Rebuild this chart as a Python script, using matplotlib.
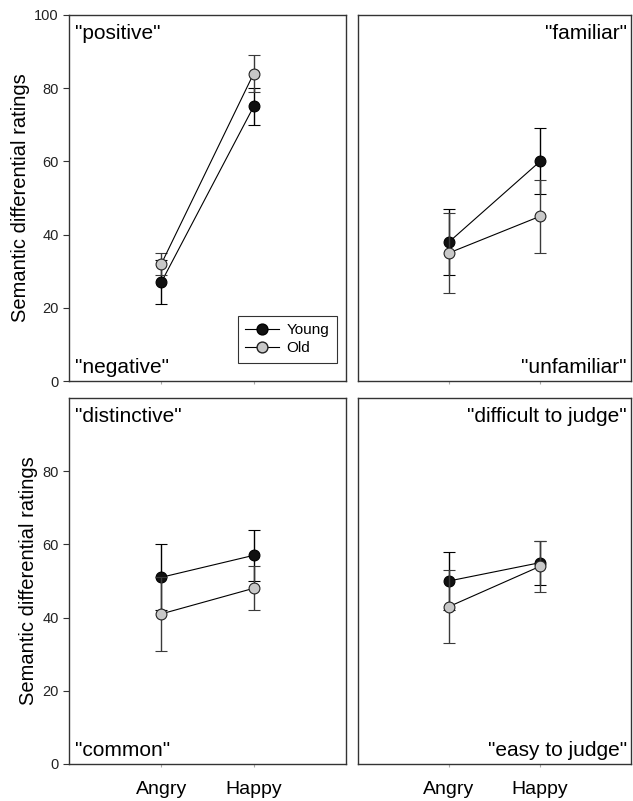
import numpy as np
import matplotlib
matplotlib.use("Agg")
import matplotlib.pyplot as plt
from matplotlib.lines import Line2D

plt.rcParams['font.family'] = ['Liberation Sans', 'DejaVu Sans']

conditions = ["Angry", "Happy"]

# panel order: top-left, top-right, bottom-left, bottom-right
top_labels = ['"positive"', '"familiar"', '"distinctive"', '"difficult to judge"']
bottom_labels = ['"negative"', '"unfamiliar"', '"common"', '"easy to judge"']

young_mean = [[27, 75], [38, 60], [51, 57], [50, 55]]
young_err = [[6, 5], [9, 9], [9, 7], [8, 6]]
old_mean = [[32, 84], [35, 45], [41, 48], [43, 54]]
old_err = [[3, 5], [11, 10], [10, 6], [10, 7]]

fig = plt.figure(figsize=(6.33, 8.01), dpi=100)

lefts = [0.109, 0.5656]
bottoms = [0.5243, 0.0462]
widths = [0.4376, 0.4313]
height = 0.457

x = np.arange(1, len(conditions) + 1)
axes = []
for i in range(4):
    r, c = i // 2, i % 2
    ax = fig.add_axes([lefts[c], bottoms[r], widths[c], height])
    axes.append(ax)

    ax.errorbar(x, young_mean[i], yerr=young_err[i], color='black', ecolor='black',
                elinewidth=1.0, capsize=4, capthick=1.0, lw=0.8, marker='o',
                markersize=7.8, markerfacecolor='#111111', markeredgecolor='black',
                markeredgewidth=0.8, zorder=3)
    ax.errorbar(x, old_mean[i], yerr=old_err[i], color='black', ecolor='#3a3a3a',
                elinewidth=1.0, capsize=4, capthick=1.0, lw=0.8, marker='o',
                markersize=7.8, markerfacecolor='#c8c8c8', markeredgecolor='#222222',
                markeredgewidth=0.8, zorder=4)

    ax.set_xlim(0, 3)
    ax.set_ylim(0, 100)
    for s in ax.spines.values():
        s.set_color('#333333')
        s.set_linewidth(1.0)

    ax.set_xticks(x)
    if r == 1:
        ax.set_xticklabels(conditions, fontsize=14)
    else:
        ax.set_xticklabels([])
    ax.tick_params(axis='x', length=2, color='#aaaaaa', pad=10)

    if c == 0:
        ax.set_yticks([0, 20, 40, 60, 80, 100] if r == 0 else [0, 20, 40, 60, 80])
        ax.tick_params(axis='y', labelsize=10.5, length=4, color='#333333',
                       labelcolor='#222222')
        ax.set_ylabel("Semantic differential ratings", fontsize=14.5, labelpad=3)
    else:
        ax.set_yticks([])

    if c == 0:
        ax.text(0.02, 0.975, top_labels[i], transform=ax.transAxes, ha='left', va='top', fontsize=15)
        ax.text(0.02, 0.012, bottom_labels[i], transform=ax.transAxes, ha='left', va='bottom', fontsize=15)
    else:
        ax.text(0.985, 0.975, top_labels[i], transform=ax.transAxes, ha='right', va='top', fontsize=15)
        ax.text(0.985, 0.012, bottom_labels[i], transform=ax.transAxes, ha='right', va='bottom', fontsize=15)

handles = [
    Line2D([0], [0], color='black', lw=0.8, marker='o', markersize=7.8,
           markerfacecolor='#111111', markeredgecolor='black'),
    Line2D([0], [0], color='black', lw=0.8, marker='o', markersize=7.8,
           markerfacecolor='#c8c8c8', markeredgecolor='#222222'),
]
leg = axes[0].legend(handles, ["Young", "Old"], loc='lower right',
                     bbox_to_anchor=(0.967, 0.05), fontsize=11, frameon=True,
                     fancybox=False, handlelength=2.2, borderpad=0.5,
                     labelspacing=0.25, handletextpad=0.5, borderaxespad=0)
leg.get_frame().set_edgecolor('black')
leg.get_frame().set_linewidth(0.8)

fig.savefig("out.png", dpi=100)
